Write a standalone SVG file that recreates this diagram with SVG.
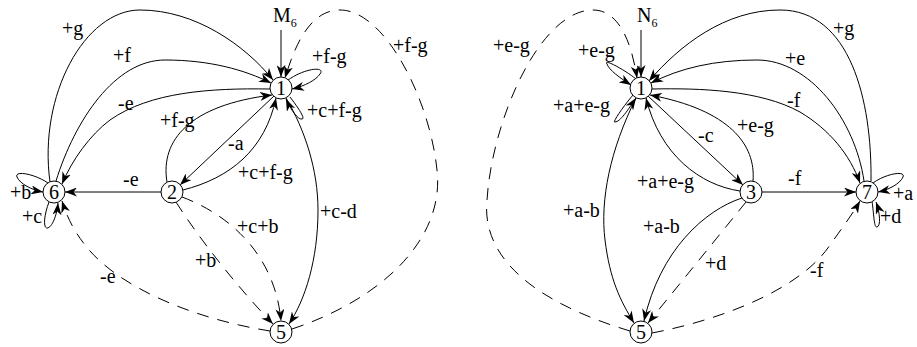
<svg xmlns="http://www.w3.org/2000/svg" width="917" height="347" viewBox="0 0 917 347">
<defs>
<marker id="ah" viewBox="0 0 12 9" refX="12" refY="4.5" markerWidth="12" markerHeight="9" markerUnits="userSpaceOnUse" orient="auto">
<path d="M0,0 L12,4.5 L0,9 L3.5,4.5 z" fill="#000"/>
</marker>
</defs>
<style>
.e{fill:none;stroke:#000;stroke-width:1;marker-end:url(#ah)}
.d{stroke-dasharray:12,9}
.n{fill:#fff;stroke:#000;stroke-width:1}
.t{font-family:'Liberation Serif','Times New Roman',serif;font-size:20px;fill:#000}
.nt{text-anchor:middle}
.sub{font-size:12px}
</style>
<rect width="917" height="347" fill="#fff"/>
<g id="connectors">
<path class="e" d="M281,30 L281,77"/>
<path class="e" d="M50,182 C38,95 85,10 140,10 C195,10 245,45 273,80"/>
<path class="e" d="M56,181 C75,120 115,60 165,60 C210,60 245,70 271,83"/>
<path class="e" d="M270,89 C210,88 150,92 110,120 C90,135 72,160 62,184"/>
<path class="e" d="M167,182 C160,140 190,105 272,95"/>
<path class="e" d="M274,96 L180,185"/>
<path class="e" d="M183,190 C230,178 265,150 276,98"/>
<path class="e" d="M161,192 L65,192"/>
<path class="e" d="M288,80 C305,68 326,66 320,74 C316,80 305,86 292,89"/>
<path class="e" d="M290,97 C297,106 306,119 302,119 C298,120 291,110 286,99"/>
<path class="e" d="M286,98 C305,130 318,170 318,210 C318,260 305,300 289,324"/>
<path class="e d" d="M292,329 C380,300 445,240 437,170 C430,100 385,10 340,10 C310,10 295,45 285,78"/>
<path class="e d" d="M270,331 C200,320 120,290 85,245 C75,232 68,220 62,201"/>
<path class="e d" d="M176,202 C200,240 240,290 273,324"/>
<path class="e d" d="M182,197 C230,215 275,255 281,321"/>
<path class="e" d="M48,183 C35,174 14,170 17,177 C20,184 32,190 43,192"/>
<path class="e" d="M49,202 C44,215 43,228 47,228 C52,228 57,215 58,203"/>
<path class="e" d="M641,30 L641,77"/>
<path class="e" d="M871,181 C872,100 850,10 780,10 C725,10 680,45 649,81"/>
<path class="e" d="M864,181 C855,120 810,60 757,60 C715,60 680,68 651,83"/>
<path class="e" d="M652,89 C700,88 760,90 800,112 C830,130 850,155 860,183"/>
<path class="e" d="M753,181 C756,145 730,110 650,95"/>
<path class="e" d="M648,96 L743,185"/>
<path class="e" d="M740,191 C700,185 660,155 646,98"/>
<path class="e" d="M762,192 L856,192"/>
<path class="e" d="M636,79 C625,70 603,58 607,64 C609,70 620,78 631,85"/>
<path class="e" d="M633,95 C622,108 612,123 615,122 C620,122 628,110 636,98"/>
<path class="e" d="M636,98 C610,150 600,200 605,240 C610,280 620,300 634,323"/>
<path class="e" d="M742,198 C705,210 660,250 644,321"/>
<path class="e d" d="M746,202 L648,323"/>
<path class="e d" d="M652,333 C720,320 800,290 830,245 C842,228 852,215 860,201"/>
<path class="e d" d="M630,331 C560,310 480,270 487,200 C492,120 540,10 593,10 C620,10 632,45 637,78"/>
<path class="e" d="M873,183 C885,174 906,170 903,177 C900,184 888,190 878,192"/>
<path class="e" d="M872,201 C874,215 874,228 877,227 C881,226 880,213 876,202"/>
</g>
<g id="node-L1"><circle class="n" cx="281" cy="88" r="11"/><text class="t nt" x="281" y="95" font-family="Liberation Serif, serif">1</text></g>
<g id="node-L6"><circle class="n" cx="54" cy="192" r="11"/><text class="t nt" x="54" y="199" font-family="Liberation Serif, serif">6</text></g>
<g id="node-L2"><circle class="n" cx="172" cy="192" r="11"/><text class="t nt" x="172" y="199" font-family="Liberation Serif, serif">2</text></g>
<g id="node-L5"><circle class="n" cx="281" cy="332" r="11"/><text class="t nt" x="281" y="339" font-family="Liberation Serif, serif">5</text></g>
<g id="node-R1"><circle class="n" cx="641" cy="88" r="11"/><text class="t nt" x="641" y="95" font-family="Liberation Serif, serif">1</text></g>
<g id="node-R3"><circle class="n" cx="751" cy="192" r="11"/><text class="t nt" x="751" y="199" font-family="Liberation Serif, serif">3</text></g>
<g id="node-R7"><circle class="n" cx="867" cy="192" r="11"/><text class="t nt" x="867" y="199" font-family="Liberation Serif, serif">7</text></g>
<g id="node-R5"><circle class="n" cx="641" cy="332" r="11"/><text class="t nt" x="641" y="339" font-family="Liberation Serif, serif">5</text></g>
<g id="labels" class="t" font-family="Liberation Serif, serif" font-size="20">
<text x="273" y="22">M<tspan class="sub" font-size="12" dy="5">6</tspan></text>
<text x="62" y="35">+g</text>
<text x="113" y="62">+f</text>
<text x="118" y="110">-e</text>
<text x="160" y="127">+f-g</text>
<text x="228" y="150">-a</text>
<text x="238" y="179">+c+f-g</text>
<text x="123" y="186">-e</text>
<text x="312" y="63">+f-g</text>
<text x="307" y="117">+c+f-g</text>
<text x="320" y="218">+c-d</text>
<text x="393" y="52">+f-g</text>
<text x="10" y="199">+b</text>
<text x="22" y="223">+c</text>
<text x="100" y="283">-e</text>
<text x="195" y="267">+b</text>
<text x="237" y="233">+c+b</text>
<text x="637" y="22">N<tspan class="sub" font-size="12" dy="5">6</tspan></text>
<text x="493" y="52">+e-g</text>
<text x="578" y="57">+e-g</text>
<text x="553" y="112">+a+e-g</text>
<text x="833" y="35">+g</text>
<text x="785" y="65">+e</text>
<text x="787" y="107">-f</text>
<text x="737" y="132">+e-g</text>
<text x="698" y="142">-c</text>
<text x="637" y="188">+a+e-g</text>
<text x="788" y="185">-f</text>
<text x="893" y="200">+a</text>
<text x="880" y="223">+d</text>
<text x="563" y="217">+a-b</text>
<text x="643" y="233">+a-b</text>
<text x="705" y="270">+d</text>
<text x="810" y="277">-f</text>
</g>
</svg>
